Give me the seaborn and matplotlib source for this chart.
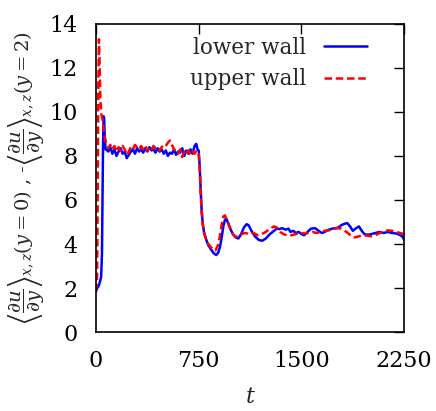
import matplotlib
matplotlib.use("Agg")
import matplotlib.pyplot as plt
import seaborn as sns
import pandas as pd

# wall shear time series: (t, value)
lower_wall = [
    (0, 1.85), (10, 2.0), (20, 2.1), (30, 2.3), (38, 2.5), (44, 3.5), (48, 6.0),
    (52, 8.5), (56, 9.8), (60, 9.7), (65, 8.8), (70, 8.3), (75, 8.3),
    (90, 8.2), (105, 8.4), (120, 8.1), (135, 8.3), (150, 8.0), (165, 8.2),
    (180, 8.35), (195, 8.1), (210, 8.2), (225, 7.9), (240, 8.05), (255, 8.2),
    (270, 8.3), (285, 8.1), (300, 8.35), (315, 8.2), (330, 8.3), (345, 8.15),
    (360, 8.35), (375, 8.2), (390, 8.4), (405, 8.25), (420, 8.3), (435, 8.15),
    (450, 8.35), (465, 8.2), (480, 8.3), (495, 8.1), (510, 8.25), (525, 8.0),
    (540, 8.15), (555, 8.1), (570, 8.3), (585, 8.05), (600, 8.2), (615, 8.15),
    (630, 8.35), (645, 8.0), (660, 8.25), (675, 8.1), (690, 8.3), (705, 8.1),
    (720, 8.45), (732, 8.55), (742, 8.3), (750, 8.25),
    (758, 7.5), (765, 6.4), (772, 5.5), (780, 4.9), (790, 4.5), (805, 4.2),
    (820, 3.95), (840, 3.75), (860, 3.58), (878, 3.5), (892, 3.6), (905, 3.85),
    (918, 4.3), (930, 4.8), (942, 5.1), (952, 5.15), (965, 4.95), (980, 4.7),
    (1000, 4.45), (1020, 4.3), (1040, 4.25), (1060, 4.45), (1080, 4.75),
    (1100, 4.9), (1115, 4.85), (1135, 4.6), (1160, 4.35), (1190, 4.18),
    (1215, 4.15), (1240, 4.25), (1270, 4.45), (1300, 4.6), (1320, 4.7),
    (1340, 4.68), (1360, 4.72), (1385, 4.65), (1405, 4.7), (1420, 4.55),
    (1440, 4.6), (1460, 4.5), (1480, 4.55), (1500, 4.45), (1520, 4.4),
    (1545, 4.55), (1570, 4.7), (1600, 4.72), (1625, 4.6), (1650, 4.5),
    (1670, 4.55), (1700, 4.65), (1725, 4.7), (1750, 4.72), (1770, 4.75),
    (1790, 4.85), (1815, 4.92), (1835, 4.95), (1855, 4.8), (1875, 4.6),
    (1895, 4.7), (1920, 4.8), (1940, 4.6), (1960, 4.45), (1985, 4.42),
    (2010, 4.45), (2040, 4.5), (2070, 4.55), (2100, 4.5), (2130, 4.55),
    (2160, 4.5), (2190, 4.48), (2215, 4.42), (2235, 4.35), (2250, 4.2),
]

upper_wall = [
    (0, 1.85), (8, 2.3), (13, 6.0), (17, 11.0), (22, 13.3), (27, 12.2),
    (33, 10.5), (40, 9.9), (50, 9.6), (60, 9.0), (70, 8.7), (80, 8.5),
    (90, 8.35), (105, 8.5), (120, 8.3), (135, 8.45), (150, 8.2), (165, 8.4),
    (180, 8.25), (195, 8.45), (210, 8.3), (225, 8.05), (240, 8.2), (255, 8.4),
    (270, 8.3), (285, 8.5), (300, 8.4), (315, 8.3), (330, 8.45), (345, 8.3),
    (360, 8.45), (375, 8.25), (390, 8.4), (405, 8.3), (420, 8.45), (435, 8.35),
    (450, 8.4), (465, 8.25), (480, 8.4), (495, 8.5), (510, 8.45), (525, 8.6),
    (540, 8.7), (555, 8.5), (570, 8.3), (585, 8.2), (600, 8.1), (615, 8.3),
    (630, 7.95), (645, 8.2), (660, 8.1), (675, 8.25), (690, 8.05), (705, 8.2),
    (720, 8.1), (735, 8.25), (750, 8.1),
    (758, 7.3), (765, 6.3), (772, 5.45), (780, 4.9), (790, 4.5), (805, 4.2),
    (820, 4.0), (840, 3.85), (858, 3.72), (872, 3.7), (888, 3.9), (903, 4.3),
    (918, 4.9), (930, 5.25), (942, 5.3), (958, 5.05), (975, 4.8), (995, 4.5),
    (1015, 4.33), (1035, 4.35), (1060, 4.45), (1090, 4.5), (1120, 4.45),
    (1150, 4.5), (1180, 4.4), (1210, 4.45), (1240, 4.55), (1270, 4.7),
    (1300, 4.8), (1320, 4.75), (1345, 4.55), (1370, 4.45), (1400, 4.38),
    (1430, 4.4), (1460, 4.45), (1490, 4.5), (1520, 4.48), (1550, 4.5),
    (1580, 4.55), (1610, 4.5), (1640, 4.55), (1670, 4.6), (1700, 4.62),
    (1730, 4.68), (1760, 4.72), (1790, 4.7), (1815, 4.6), (1840, 4.5),
    (1865, 4.35), (1890, 4.3), (1920, 4.35), (1950, 4.4), (1980, 4.38),
    (2010, 4.35), (2040, 4.4), (2070, 4.5), (2100, 4.55), (2130, 4.62),
    (2160, 4.6), (2190, 4.55), (2220, 4.5), (2250, 4.45),
]

x_ticks = [0, 750, 1500, 2250]
y_ticks = [0, 2, 4, 6, 8, 10, 12, 14]

sns.set_style("white")
plt.rcParams["font.family"] = ["DejaVu Serif"]
plt.rcParams["mathtext.fontset"] = "dejavuserif"

df_lower = pd.DataFrame(lower_wall, columns=["t", "value"])
df_upper = pd.DataFrame(upper_wall, columns=["t", "value"])

DASH = [3.0, 1.5]

fig = plt.figure(figsize=(4.36, 4.11), dpi=100)
ax = fig.add_axes([0.220, 0.192, 0.707, 0.750])

sns.lineplot(data=df_lower, x="t", y="value", ax=ax, color="#0000ff",
             linewidth=1.8, label="lower wall", sort=False)
sns.lineplot(data=df_upper, x="t", y="value", ax=ax, color="#ff0000",
             linewidth=1.8, label="upper wall", sort=False)
ax.lines[1].set_dashes(DASH)

ax.set_xlim(0, 2250)
ax.set_ylim(0, 14)
ax.set_xticks(x_ticks)
ax.set_yticks(y_ticks)
ax.tick_params(direction="in", length=7, width=1.0, top=True, right=True,
               labelsize=16, colors="black", pad=13)
for s in ax.spines.values():
    s.set_color("black")
    s.set_linewidth(1.2)

ax.set_xlabel(r"$t$", fontsize=16, labelpad=10)
ax.set_ylabel(r"$\left\langle\dfrac{\partial u}{\partial y}\right\rangle_{x,z}(y=0)$ , -"
              r"$\left\langle\dfrac{\partial u}{\partial y}\right\rangle_{x,z}(y=2)$",
              fontsize=14, labelpad=2)

leg = ax.legend(loc="upper right", bbox_to_anchor=(0.895, 0.972),
                frameon=False, markerfirst=False, fontsize=15.5,
                handlelength=2.0, borderaxespad=0.0, borderpad=0.2,
                labelspacing=0.45, handletextpad=0.85)
leg.get_lines()[1].set_dashes(DASH)

fig.savefig("out.png", dpi=100)
